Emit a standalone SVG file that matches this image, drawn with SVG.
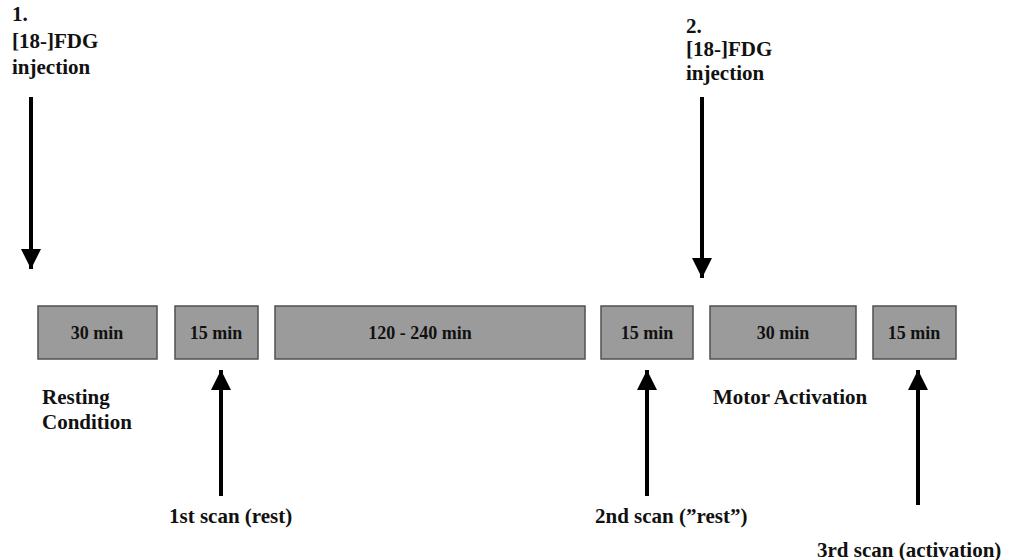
<svg xmlns="http://www.w3.org/2000/svg" width="1010" height="560" viewBox="0 0 1010 560">
<style>
.lbl{font-family:"Liberation Serif","Times New Roman",serif;font-weight:bold;font-size:21px;fill:#111}
.bx{fill:#9b9b9b;stroke:#505050;stroke-width:1.5}
.bt{font-family:"Liberation Serif","Times New Roman",serif;font-weight:bold;font-size:18px;fill:#111;text-anchor:middle}
.ar{stroke:#000;stroke-width:4;fill:none}
</style>
<defs>
<marker id="ah" viewBox="0 0 10 10" refX="10" refY="5" markerWidth="5" markerHeight="5" markerUnits="strokeWidth" orient="auto">
<path d="M0,0 L10,5 L0,10 z" fill="#000"/>
</marker>
</defs>
<rect width="1010" height="560" fill="#fff"/>
<g id="inj1">
<text class="lbl" x="12" y="21">1.</text>
<text class="lbl" x="12" y="48">[18-]FDG</text>
<text class="lbl" x="12" y="74">injection</text>
</g>
<g id="inj2">
<text class="lbl" x="686" y="33">2.</text>
<text class="lbl" x="686" y="56">[18-]FDG</text>
<text class="lbl" x="686" y="80">injection</text>
</g>
<g id="b1"><rect class="bx" x="38" y="306" width="119" height="53"/><text class="bt" x="97" y="339">30 min</text></g>
<g id="b2"><rect class="bx" x="175" y="306" width="83" height="53"/><text class="bt" x="216" y="339">15 min</text></g>
<g id="b3"><rect class="bx" x="275" y="306" width="310" height="53"/><text class="bt" x="420" y="339">120 - 240 min</text></g>
<g id="b4"><rect class="bx" x="601" y="306" width="92" height="53"/><text class="bt" x="647" y="339">15 min</text></g>
<g id="b5"><rect class="bx" x="710" y="306" width="146" height="53"/><text class="bt" x="783" y="339">30 min</text></g>
<g id="b6"><rect class="bx" x="873" y="306" width="83" height="53"/><text class="bt" x="914" y="339">15 min</text></g>
<g id="rest"><text class="lbl" x="42" y="404">Resting</text><text class="lbl" x="42" y="429">Condition</text></g>
<g id="motor"><text class="lbl" x="713" y="404">Motor Activation</text></g>
<g id="s1"><text class="lbl" x="169" y="523">1st scan (rest)</text></g>
<g id="s2"><text class="lbl" x="595" y="523">2nd scan (”rest”)</text></g>
<g id="s3"><text class="lbl" x="817" y="557">3rd scan (activation)</text></g>
<g id="connectors">
<line class="ar" x1="31" y1="97" x2="31" y2="269" marker-end="url(#ah)"/>
<line class="ar" x1="702" y1="97" x2="702" y2="278" marker-end="url(#ah)"/>
<line class="ar" x1="221" y1="496" x2="221" y2="370" marker-end="url(#ah)"/>
<line class="ar" x1="647" y1="496" x2="647" y2="370" marker-end="url(#ah)"/>
<line class="ar" x1="918" y1="505" x2="918" y2="370" marker-end="url(#ah)"/>
</g>
</svg>
